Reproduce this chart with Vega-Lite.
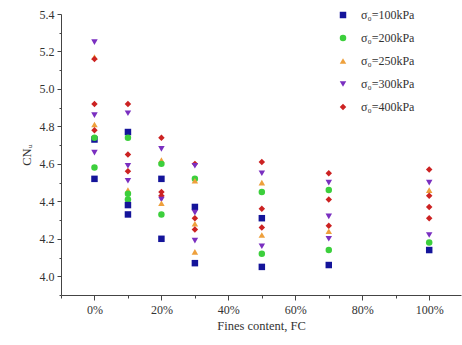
{
  "$schema": "https://vega.github.io/schema/vega-lite/v6.json",
  "width": 400,
  "height": 281,
  "autosize": {"type": "none"},
  "padding": {"left": 61, "top": 14, "right": 1, "bottom": 50},
  "background": "white",
  "config": {
    "view": {"stroke": null},
    "font": "Liberation Serif",
    "axis": {"labelFont": "Liberation Serif", "titleFont": "Liberation Serif", "labelFontSize": 12, "titleFontSize": 12.5, "titleFontWeight": "normal", "labelColor": "#333", "titleColor": "#333", "domainColor": "#444", "tickColor": "#444", "grid": false}
  },
  "data": {"values": [
    {"fc": 0, "cn": 5.25, "s": "300"},
    {"fc": 0, "cn": 5.17, "s": "250"},
    {"fc": 0, "cn": 5.16, "s": "400"},
    {"fc": 0, "cn": 4.92, "s": "400"},
    {"fc": 0, "cn": 4.86, "s": "300"},
    {"fc": 0, "cn": 4.81, "s": "250"},
    {"fc": 0, "cn": 4.78, "s": "400"},
    {"fc": 0, "cn": 4.73, "s": "100"},
    {"fc": 0, "cn": 4.74, "s": "200"},
    {"fc": 0, "cn": 4.66, "s": "300"},
    {"fc": 0, "cn": 4.58, "s": "200"},
    {"fc": 0, "cn": 4.52, "s": "100"},
    {"fc": 10, "cn": 4.92, "s": "400"},
    {"fc": 10, "cn": 4.87, "s": "300"},
    {"fc": 10, "cn": 4.77, "s": "100"},
    {"fc": 10, "cn": 4.74, "s": "200"},
    {"fc": 10, "cn": 4.65, "s": "400"},
    {"fc": 10, "cn": 4.59, "s": "300"},
    {"fc": 10, "cn": 4.56, "s": "400"},
    {"fc": 10, "cn": 4.51, "s": "300"},
    {"fc": 10, "cn": 4.46, "s": "250"},
    {"fc": 10, "cn": 4.44, "s": "200"},
    {"fc": 10, "cn": 4.41, "s": "200"},
    {"fc": 10, "cn": 4.38, "s": "100"},
    {"fc": 10, "cn": 4.33, "s": "100"},
    {"fc": 20, "cn": 4.74, "s": "400"},
    {"fc": 20, "cn": 4.68, "s": "300"},
    {"fc": 20, "cn": 4.62, "s": "250"},
    {"fc": 20, "cn": 4.60, "s": "200"},
    {"fc": 20, "cn": 4.52, "s": "100"},
    {"fc": 20, "cn": 4.45, "s": "400"},
    {"fc": 20, "cn": 4.43, "s": "400"},
    {"fc": 20, "cn": 4.41, "s": "300"},
    {"fc": 20, "cn": 4.39, "s": "250"},
    {"fc": 20, "cn": 4.33, "s": "200"},
    {"fc": 20, "cn": 4.20, "s": "100"},
    {"fc": 30, "cn": 4.60, "s": "400"},
    {"fc": 30, "cn": 4.59, "s": "300"},
    {"fc": 30, "cn": 4.52, "s": "200"},
    {"fc": 30, "cn": 4.51, "s": "250"},
    {"fc": 30, "cn": 4.37, "s": "100"},
    {"fc": 30, "cn": 4.34, "s": "300"},
    {"fc": 30, "cn": 4.31, "s": "400"},
    {"fc": 30, "cn": 4.28, "s": "250"},
    {"fc": 30, "cn": 4.25, "s": "400"},
    {"fc": 30, "cn": 4.19, "s": "300"},
    {"fc": 30, "cn": 4.13, "s": "250"},
    {"fc": 30, "cn": 4.07, "s": "100"},
    {"fc": 50, "cn": 4.61, "s": "400"},
    {"fc": 50, "cn": 4.55, "s": "300"},
    {"fc": 50, "cn": 4.50, "s": "250"},
    {"fc": 50, "cn": 4.45, "s": "200"},
    {"fc": 50, "cn": 4.36, "s": "400"},
    {"fc": 50, "cn": 4.31, "s": "100"},
    {"fc": 50, "cn": 4.26, "s": "400"},
    {"fc": 50, "cn": 4.22, "s": "250"},
    {"fc": 50, "cn": 4.16, "s": "300"},
    {"fc": 50, "cn": 4.12, "s": "200"},
    {"fc": 50, "cn": 4.05, "s": "100"},
    {"fc": 70, "cn": 4.55, "s": "400"},
    {"fc": 70, "cn": 4.50, "s": "300"},
    {"fc": 70, "cn": 4.46, "s": "200"},
    {"fc": 70, "cn": 4.41, "s": "400"},
    {"fc": 70, "cn": 4.32, "s": "300"},
    {"fc": 70, "cn": 4.27, "s": "400"},
    {"fc": 70, "cn": 4.24, "s": "250"},
    {"fc": 70, "cn": 4.20, "s": "300"},
    {"fc": 70, "cn": 4.14, "s": "200"},
    {"fc": 70, "cn": 4.06, "s": "100"},
    {"fc": 100, "cn": 4.57, "s": "400"},
    {"fc": 100, "cn": 4.50, "s": "300"},
    {"fc": 100, "cn": 4.46, "s": "250"},
    {"fc": 100, "cn": 4.43, "s": "400"},
    {"fc": 100, "cn": 4.37, "s": "400"},
    {"fc": 100, "cn": 4.31, "s": "400"},
    {"fc": 100, "cn": 4.22, "s": "300"},
    {"fc": 100, "cn": 4.18, "s": "200"},
    {"fc": 100, "cn": 4.14, "s": "100"}
  ]},
  "resolve": {"axis": {"x": "independent", "y": "independent"}},
  "layer": [
    {
      "mark": {"type": "point", "filled": true, "size": 42, "opacity": 1, "clip": true},
      "encoding": {
        "x": {"field": "fc", "type": "quantitative", "scale": {"domain": [-10, 109.5], "nice": false, "zero": false},
          "axis": {"orient": "bottom", "title": "Fines content, FC", "values": [0, 20, 40, 60, 80, 100], "labelExpr": "datum.value + '%'", "tickSize": 5, "labelPadding": 4, "titlePadding": 4}},
        "y": {"field": "cn", "type": "quantitative", "scale": {"domain": [3.9, 5.4], "nice": false, "zero": false},
          "axis": {"orient": "left", "title": "CNᵤ", "values": [4.0, 4.2, 4.4, 4.6, 4.8, 5.0, 5.2, 5.4], "format": ".1f", "tickSize": 4, "labelPadding": 3, "titlePadding": 6}},
        "color": {"field": "s", "type": "nominal",
          "scale": {"domain": ["100", "200", "250", "300", "400"], "range": ["#14149a", "#3ccf3c", "#eea03c", "#7a2fc0", "#cc2222"]},
          "legend": {"orient": "none", "legendX": 276, "legendY": -5, "title": null, "labelExpr": "'σ₀=' + datum.label + 'kPa'", "labelFont": "Liberation Serif", "labelFontSize": 12, "labelColor": "#333", "rowPadding": 11, "symbolSize": 42, "labelOffset": 12}},
        "shape": {"field": "s", "type": "nominal",
          "scale": {"domain": ["100", "200", "250", "300", "400"], "range": ["square", "circle", "triangle-up", "triangle-down", "diamond"]},
          "legend": {"orient": "none", "legendX": 276, "legendY": -5, "title": null, "labelExpr": "'σ₀=' + datum.label + 'kPa'", "labelFont": "Liberation Serif", "labelFontSize": 12, "labelColor": "#333", "rowPadding": 11, "symbolSize": 42, "labelOffset": 12}}
      }
    },
    {
      "mark": {"type": "point", "opacity": 0},
      "encoding": {
        "x": {"field": "fc", "type": "quantitative",
          "axis": {"orient": "bottom", "title": null, "values": [-10, 10, 30, 50, 70, 90], "labels": false, "domain": false, "tickSize": 3}},
        "y": {"field": "cn", "type": "quantitative",
          "axis": {"orient": "left", "title": null, "values": [3.9, 4.1, 4.3, 4.5, 4.7, 4.9, 5.1, 5.3], "labels": false, "domain": false, "tickSize": 2}}
      }
    }
  ]
}
